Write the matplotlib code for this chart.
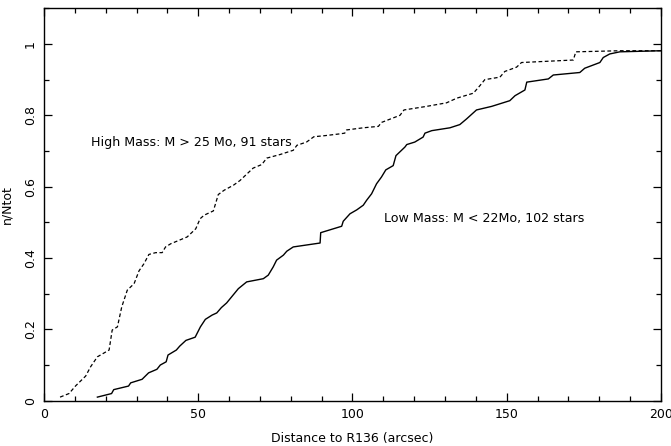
import matplotlib
matplotlib.use("Agg")
import matplotlib.pyplot as plt
from matplotlib.ticker import MultipleLocator

# Cumulative radial distributions around R136
high_dist = [5.2, 8.1, 10.3, 13.5, 15.1, 17.3, 21.1, 22.1, 23.8, 25.2, 27.0, 29.2,
             30.8, 32.4, 34.0, 36.2, 38.3, 39.4, 41.1, 46.4, 47.5, 49.2, 50.6, 51.9,
             54.9, 56.5, 58.4, 61.4, 63.5, 65.7, 67.8, 70.6, 72.2, 76.5, 80.8, 82.0,
             85.1, 87.5, 91.1, 95.9, 97.5, 98.1, 103.5, 108.4, 109.4, 115.4, 116.7,
             124.0, 130.5, 133.8, 139.2, 141.3, 142.9, 147.8, 149.4, 153.2, 154.8,
             171.6, 172.4, 186.7, 200.0]
high_frac = [0.010, 0.020, 0.042, 0.069, 0.095, 0.123, 0.142, 0.198, 0.207, 0.263,
             0.310, 0.328, 0.364, 0.384, 0.410, 0.415, 0.415, 0.431, 0.440, 0.459,
             0.468, 0.482, 0.510, 0.520, 0.532, 0.578, 0.590, 0.604, 0.617, 0.635,
             0.652, 0.662, 0.680, 0.690, 0.702, 0.716, 0.725, 0.740, 0.743, 0.748,
             0.750, 0.759, 0.765, 0.769, 0.780, 0.800, 0.815, 0.825, 0.835, 0.848,
             0.862, 0.883, 0.900, 0.907, 0.923, 0.935, 0.948, 0.955, 0.978, 0.981,
             0.981]

low_dist = [17.3, 21.9, 22.6, 27.4, 28.1, 31.8, 33.9, 36.6, 37.7, 39.6, 40.2, 42.9,
            44.0, 46.0, 49.0, 50.7, 52.3, 54.5, 56.0, 57.5, 59.2, 63.0, 65.7, 71.1,
            72.7, 74.3, 75.4, 77.6, 78.7, 80.8, 89.5, 89.7, 96.5, 97.0, 99.2, 101.4,
            103.5, 104.6, 106.2, 107.8, 109.4, 110.8, 113.2, 114.1, 117.0, 117.6,
            120.2, 122.9, 123.5, 125.7, 131.6, 134.8, 137.0, 140.2, 145.1, 151.0,
            152.7, 155.9, 156.5, 163.5, 165.1, 173.7, 175.3, 180.2, 181.3, 183.4,
            186.7, 200.0]
low_frac = [0.010, 0.020, 0.031, 0.041, 0.050, 0.060, 0.078, 0.088, 0.100, 0.109,
            0.128, 0.142, 0.153, 0.169, 0.178, 0.207, 0.228, 0.240, 0.246, 0.261,
            0.274, 0.314, 0.333, 0.342, 0.352, 0.375, 0.394, 0.408, 0.419, 0.431,
            0.442, 0.471, 0.489, 0.503, 0.524, 0.535, 0.548, 0.562, 0.580, 0.608,
            0.627, 0.647, 0.659, 0.687, 0.711, 0.718, 0.725, 0.739, 0.750, 0.757,
            0.765, 0.774, 0.790, 0.815, 0.825, 0.841, 0.855, 0.871, 0.893, 0.902,
            0.913, 0.920, 0.932, 0.948, 0.962, 0.972, 0.978, 0.981]

high_label = "High Mass: M > 25 Mo, 91 stars"
low_label = "Low Mass: M < 22Mo, 102 stars"

plt.rcParams["font.family"] = "DejaVu Sans"
fig = plt.figure(figsize=(6.71, 4.46), dpi=100)
ax = fig.add_axes([0.0656, 0.1016, 0.9194, 0.8798])

ax.plot(high_dist, high_frac, color="black", lw=0.9, linestyle=(0, (3, 2)))
ax.plot(low_dist, low_frac, color="black", lw=1.0)

ax.text(15.2, 0.724, high_label, fontsize=9.1, va="center", ha="left")
ax.text(110.2, 0.511, low_label, fontsize=9.1, va="center", ha="left")

ax.set_xlim(0, 200)
ax.set_ylim(0, 1.1)
ax.xaxis.set_major_locator(MultipleLocator(50))
ax.xaxis.set_minor_locator(MultipleLocator(10))
ax.yaxis.set_major_locator(MultipleLocator(0.2))
ax.yaxis.set_minor_locator(MultipleLocator(0.1))
ax.set_xticks([0, 50, 100, 150, 200], ["0", "50", "100", "150", "200"])
ax.set_yticks([0, 0.2, 0.4, 0.6, 0.8, 1.0], ["0", "0.2", "0.4", "0.6", "0.8", "1"])
ax.tick_params(which="both", direction="in", top=True, right=True, width=0.9,
               labelsize=9, pad=5)
ax.tick_params(which="major", length=6)
ax.tick_params(which="minor", length=3.5)
for lbl in ax.get_yticklabels():
    lbl.set_rotation(90)
    lbl.set_va("center")
for sp in ax.spines.values():
    sp.set_linewidth(1.0)

ax.set_xlabel("Distance to R136 (arcsec)", fontsize=9, labelpad=8)
ax.set_ylabel("n/Ntot", fontsize=9, labelpad=8)

fig.savefig("out.png", dpi=100)
